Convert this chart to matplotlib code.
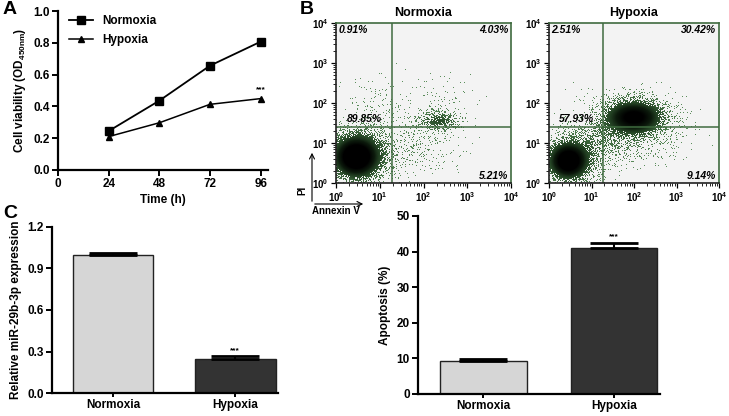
import matplotlib
matplotlib.use("Agg")
import matplotlib.pyplot as plt
import numpy as np
from matplotlib.colors import LinearSegmentedColormap

plt.rcParams['font.family'] = ['Liberation Sans', 'DejaVu Sans']
plt.rcParams['font.weight'] = 'bold'
plt.rcParams['axes.labelweight'] = 'bold'
plt.rcParams['mathtext.fontset'] = 'custom'
plt.rcParams['mathtext.rm'] = 'Liberation Sans:bold'
plt.rcParams['mathtext.default'] = 'rm'

# panel A: cell viability
time_h = [24, 48, 72, 96]
viab_normoxia = [0.245, 0.436, 0.656, 0.807]
viab_hypoxia = [0.21, 0.297, 0.413, 0.449]

# panel B: flow cytometry quadrant percentages (UL, UR, LL, LR)
flow_titles = ["Normoxia", "Hypoxia"]
flow_pct = [["0.91%", "4.03%", "89.85%", "5.21%"],
            ["2.51%", "30.42%", "57.93%", "9.14%"]]
gate_x = 19
gate_y = 25
# cell populations as (log10 x, log10 y, spread x, spread y, dot density)
clusters_normoxia = [(0.45, 0.65, 0.27, 0.27, 3.0),
                     (0.55, 0.7, 0.42, 0.4, 1.0),
                     (2.35, 1.55, 0.28, 0.14, 0.75),
                     (2.3, 1.8, 0.4, 0.4, 0.08),
                     (0.9, 2.0, 0.3, 0.4, 0.08),
                     (1.8, 0.9, 0.5, 0.35, 0.15)]
clusters_hypoxia = [(0.45, 0.55, 0.24, 0.24, 3.0),
                    (0.55, 0.6, 0.4, 0.38, 0.7),
                    (2.0, 1.65, 0.36, 0.23, 2.3),
                    (2.0, 1.6, 0.55, 0.35, 0.5),
                    (1.2, 1.1, 0.4, 0.35, 0.3),
                    (2.0, 0.9, 0.5, 0.3, 0.12)]

# panel C: bars
groups = ["Normoxia", "Hypoxia"]
mir_expr = [1.0, 0.245]
mir_err = [0.012, 0.02]
apoptosis = [9.3, 41.0]
apoptosis_err = [0.6, 1.5]

W, H = 729, 416
fig = plt.figure(figsize=(W / 100, H / 100), dpi=100)


def px_axes(left, top, right, bottom):
    return fig.add_axes([left / W, 1 - bottom / H, (right - left) / W, (bottom - top) / H])


def style_prism(ax):
    for s in ['top', 'right']:
        ax.spines[s].set_visible(False)
    for s in ['left', 'bottom']:
        ax.spines[s].set_linewidth(1.6)
    ax.tick_params(width=1.4, length=4, labelsize=8.5, direction='out', pad=2)
    for lab in ax.get_xticklabels() + ax.get_yticklabels():
        lab.set_fontweight('bold')


# ---------- A ----------
axA = px_axes(58, 11, 268, 170)
axA.plot(time_h, viab_normoxia, color='black', marker='s', markersize=5.5, lw=1.3, label='Normoxia')
axA.plot(time_h, viab_hypoxia, color='black', marker='^', markersize=5, lw=1.1, label='Hypoxia')
axA.set_xlim(0, 99.5)
axA.set_ylim(0, 1.0)
axA.set_xticks([0, 24, 48, 72, 96])
axA.set_yticks(np.arange(0, 1.01, 0.2))
axA.set_yticklabels(['%.1f' % v for v in np.arange(0, 1.01, 0.2)])
axA.set_xlabel('Time (h)', fontsize=8.5, labelpad=3)
axA.set_ylabel(r'Cell viability (OD$_{450nm}$)', fontsize=8.5, labelpad=4)
axA.text(time_h[-1], viab_hypoxia[-1] + 0.035, '***', ha='center', va='bottom', fontsize=6)
axA.legend(loc='upper left', frameon=False, fontsize=8.5, handlelength=2.0,
           borderaxespad=0.2, labelspacing=0.6, bbox_to_anchor=(0.02, 1.02))
style_prism(axA)

# ---------- B ----------
green = '#3f6b3f'
dot_cmap = LinearSegmentedColormap.from_list('flow', ['#5d8f5d', '#2b4f2b', '#0c1a0c', '#000000'])

flow_boxes = [(336, 23, 511, 183), (549, 23, 719, 183)]
for i, clusters in enumerate([clusters_normoxia, clusters_hypoxia]):
    left, top, right, bottom = flow_boxes[i]
    nx, ny = right - left, bottom - top
    ax = px_axes(left, top, right, bottom)
    ax.set_facecolor('#f3f3f3')
    ex = np.linspace(0, 4, nx + 1)
    ey = np.linspace(0, 4, ny + 1)
    gx, gy = np.meshgrid(0.5 * (ex[:-1] + ex[1:]), 0.5 * (ey[:-1] + ey[1:]))
    dens = np.zeros_like(gx)
    for cx, cy, sx, sy, w in clusters:
        dens += w * np.exp(-0.5 * (((gx - cx) / sx) ** 2 + ((gy - cy) / sy) ** 2))
    # fixed stipple screen (hash of the pixel index): a pixel gets a dot where density beats it
    jx, jy = np.meshgrid(np.arange(nx) + 211 * i, np.arange(ny))
    screen = np.mod(np.sin(jx * 12.9898 + jy * 78.233) * 43758.5453, 1.0)
    dots = np.ma.masked_where(dens <= screen, np.clip(dens / 2.4, 0, 1))
    ax.pcolormesh(10 ** ex, 10 ** ey, dots, cmap=dot_cmap, vmin=0, vmax=1,
                  shading='flat', rasterized=True)
    ax.set_xscale('log')
    ax.set_yscale('log')
    ax.set_xlim(1, 1e4)
    ax.set_ylim(1, 1e4)
    ax.axvline(gate_x, color=green, lw=1.1)
    ax.axhline(gate_y, color=green, lw=1.1)
    for s in ax.spines.values():
        s.set_color(green)
        s.set_linewidth(1.2)
    ax.spines['left'].set_color('#222222')
    ax.spines['bottom'].set_color('#222222')
    ax.set_xticks([1, 10, 100, 1000, 10000])
    ax.set_yticks([1, 10, 100, 1000, 10000])
    ax.set_xticklabels([r'$10^{%d}$' % k for k in range(5)])
    ax.set_yticklabels([r'$10^{%d}$' % k for k in range(5)])
    ax.tick_params(which='major', length=3.5, width=0.9, labelsize=7, pad=2)
    ax.tick_params(which='minor', length=2, width=0.6)
    ax.set_title(flow_titles[i], fontsize=9, fontweight='bold', pad=5)
    ul, ur, ll, lr = flow_pct[i]
    kw = dict(fontsize=7.5, fontweight='bold', style='italic', transform=ax.transAxes)
    ax.text(0.015, 0.985, ul, ha='left', va='top', **kw)
    ax.text(0.985, 0.985, ur, ha='right', va='top', **kw)
    ax.text(0.16, 0.37, ll, ha='center', va='bottom', **kw)
    ax.text(0.985, 0.015, lr, ha='right', va='bottom', **kw)

# PI / Annexin V axis arrows
fig.add_artist(matplotlib.patches.FancyArrowPatch(
    (312 / W, 1 - 204 / H), (312 / W, 1 - 150 / H), arrowstyle='->', mutation_scale=9,
    lw=0.8, color='black', transform=fig.transFigure))
fig.add_artist(matplotlib.patches.FancyArrowPatch(
    (312 / W, 1 - 204 / H), (366 / W, 1 - 204 / H), arrowstyle='->', mutation_scale=9,
    lw=0.8, color='black', transform=fig.transFigure))
fig.text(302 / W, 1 - 190 / H, 'PI', rotation=90, ha='center', va='center', fontsize=7)
fig.text(336 / W, 1 - 211 / H, 'Annexin V', ha='center', va='center', fontsize=7)

# ---------- C ----------
bar_colors = ['#d6d6d6', '#333333']
xpos = np.arange(len(groups))


def bar_panel(box, vals, errs, ylim, yticks, fmt, ylabel):
    ax = px_axes(*box)
    ax.bar(xpos, vals, width=0.66, color=bar_colors, edgecolor='#222222', linewidth=1.0)
    ax.errorbar(xpos, vals, yerr=[np.zeros(len(vals)), errs], fmt='none', ecolor='black',
                elinewidth=1.5, capsize=17, capthick=2)
    ax.set_xlim(-0.5, 1.35)
    ax.set_ylim(*ylim)
    ax.set_yticks(yticks)
    ax.set_yticklabels([fmt % v for v in yticks])
    ax.set_xticks(xpos)
    ax.set_xticklabels(groups)
    ax.set_ylabel(ylabel, fontsize=8.5, labelpad=4)
    ax.text(xpos[1], vals[1] + errs[1] + (ylim[1] - ylim[0]) * 0.012, '***',
            ha='center', va='bottom', fontsize=6)
    style_prism(ax)
    ax.tick_params(axis='x', length=3, pad=1)
    return ax


bar_panel((52, 227, 278, 393), mir_expr, mir_err, (0, 1.2),
          [0.0, 0.3, 0.6, 0.9, 1.2], '%.1f', 'Relative miR-29b-3p expression')
bar_panel((418, 216, 660, 394), apoptosis, apoptosis_err, (0, 50),
          [0, 10, 20, 30, 40, 50], '%d', 'Apoptosis (%)')

# panel letters
fig.text(3 / W, 1 - 1 / H, 'A', fontsize=14, fontweight='bold', va='top')
fig.text(300 / W, 1 - 1 / H, 'B', fontsize=14, fontweight='bold', va='top')
fig.text(3 / W, 1 - 205 / H, 'C', fontsize=14, fontweight='bold', va='top')

fig.savefig('out.png', dpi=100)
